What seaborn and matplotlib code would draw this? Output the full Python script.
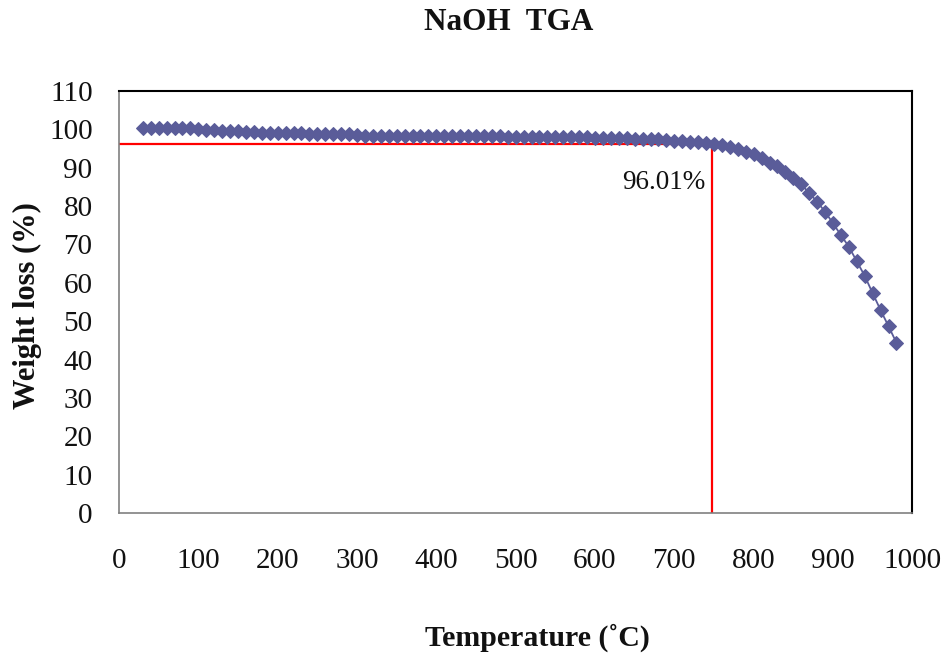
import matplotlib
matplotlib.use("Agg")
import matplotlib.pyplot as plt
import seaborn as sns
import pandas as pd

temperature = [30, 40, 50, 60, 70, 80, 90, 100, 110, 120, 130, 140, 150, 160, 170, 180, 190,
               200, 210, 220, 230, 240, 250, 260, 270, 280, 290, 300, 310, 320, 330, 340, 350,
               360, 370, 380, 390, 400, 410, 420, 430, 440, 450, 460, 470, 480, 490, 500, 510,
               520, 530, 540, 550, 560, 570, 580, 590, 600, 610, 620, 630, 640, 650, 660, 670,
               680, 690, 700, 710, 720, 730, 740, 750, 760, 770, 780, 790, 800, 810, 820, 830,
               840, 850, 860, 870, 880, 890, 900, 910, 920, 930, 940, 950, 960, 970, 980]
weight = [100.4, 100.4, 100.4, 100.4, 100.4, 100.3, 100.2, 100.1, 99.9, 99.8, 99.6, 99.5, 99.4,
          99.3, 99.2, 99.1, 99.1, 99.0, 99.0, 98.9, 98.9, 98.8, 98.8, 98.8, 98.7, 98.7, 98.7,
          98.4, 98.3, 98.3, 98.2, 98.2, 98.2, 98.1, 98.1, 98.1, 98.1, 98.1, 98.1, 98.1, 98.1,
          98.1, 98.1, 98.1, 98.1, 98.1, 98.0, 98.0, 98.0, 98.0, 98.0, 98.0, 98.0, 97.9, 97.9,
          97.9, 97.9, 97.8, 97.8, 97.7, 97.7, 97.6, 97.5, 97.5, 97.4, 97.3, 97.2, 97.0, 96.9,
          96.7, 96.6, 96.4, 96.2, 95.9, 95.4, 94.8, 94.1, 93.4, 92.4, 91.3, 90.3, 88.9, 87.3,
          85.6, 83.4, 81.1, 78.5, 75.5, 72.4, 69.4, 65.6, 61.8, 57.3, 52.9, 48.7, 44.4]

marker_temp = 747
marker_weight = 96.01
annotation = "96.01%"

title = "NaOH  TGA"
xlabel = "Temperature (\u02daC)"
ylabel = "Weight loss (%)"
xticks = [0, 100, 200, 300, 400, 500, 600, 700, 800, 900, 1000]
yticks = [0, 10, 20, 30, 40, 50, 60, 70, 80, 90, 100, 110]

sns.set_style("white")
plt.rcParams["font.family"] = ["Liberation Serif", "DejaVu Serif"]

df = pd.DataFrame({"Temperature": temperature, "Weight": weight})

fig = plt.figure(figsize=(9.46, 6.57), dpi=100)
ax = fig.add_axes([119 / 946, 1 - 513.3 / 657, (912.3 - 119) / 946, (513.3 - 90.7) / 657])

color = "#5A5C99"
sns.lineplot(data=df, x="Temperature", y="Weight", ax=ax, color=color, linewidth=1.3,
             marker="D", markersize=7.3, markeredgecolor=color, markerfacecolor=color)

ax.plot([0, marker_temp], [marker_weight, marker_weight], color="red", linewidth=1.6, zorder=1)
ax.plot([marker_temp, marker_temp], [0, marker_weight], color="red", linewidth=1.6, zorder=1)
ax.text(739, 86.0, annotation, ha="right", va="center", fontsize=19.5, color="#111111")

ax.set_xlim(0, 1000)
ax.set_ylim(0, 110)
ax.set_xticks(xticks)
ax.set_yticks(yticks)
ax.set_xticklabels([str(t) for t in xticks], fontsize=21)
ax.set_yticklabels([str(t) for t in yticks], fontsize=21)

ax.tick_params(axis="both", direction="in", length=6.5, width=1, color="#808080",
               labelcolor="#111111")
ax.tick_params(axis="x", pad=25)
ax.tick_params(axis="y", pad=19)

for side in ["left", "bottom"]:
    ax.spines[side].set_color("#808080")
    ax.spines[side].set_linewidth(1.2)
for side in ["top", "right"]:
    ax.spines[side].set_color("black")
    ax.spines[side].set_linewidth(1.5)

ax.set_xlabel("")
ax.set_ylabel("")
fig.text(537 / 946, 1 - 638 / 657, xlabel, ha="center", va="center",
         fontsize=21.5, fontweight="bold", color="#111111")
fig.text(27 / 946, 1 - 306 / 657, ylabel, ha="center", va="center", rotation=90,
         fontsize=22, fontweight="bold", color="#111111")
fig.text(509 / 946, 1 - 23 / 657, title, ha="center", va="center",
         fontsize=22.5, fontweight="bold", color="#111111")

fig.savefig("out.png", dpi=100)
